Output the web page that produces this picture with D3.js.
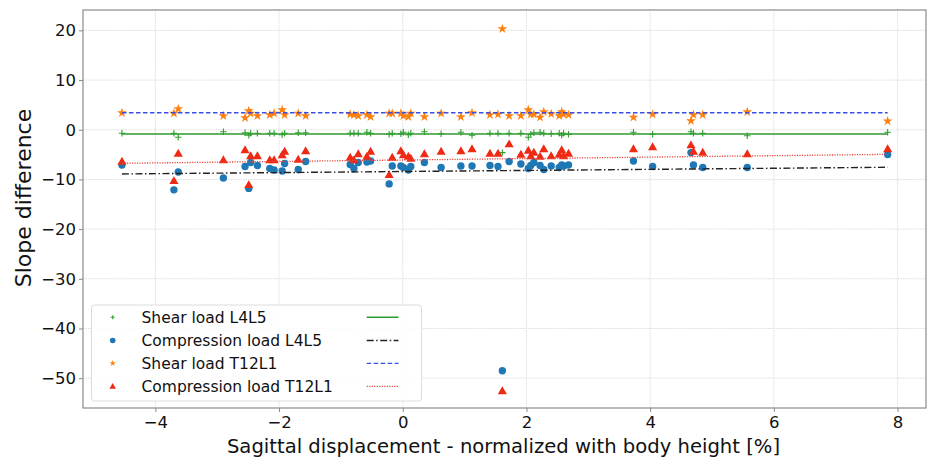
<!DOCTYPE html>
<html><head><meta charset="utf-8">
<script src="https://cdn.jsdelivr.net/npm/d3@7"></script>
<style>body{margin:0;background:#fff;} svg{display:block;font-family:"DejaVu Sans",sans-serif;}</style>
</head><body><svg id="c" width="930" height="459"></svg>
<script>
// Subject x positions (sagittal displacement, % body height)
const xValues = [-4.54,-3.70,-3.63,-2.90,-2.55,-2.49,-2.46,-2.35,-2.15,-2.08,-1.95,-1.91,-1.69,-1.57,-0.85,-0.79,-0.72,-0.58,-0.52,-0.22,-0.17,-0.03,0.01,0.09,0.13,0.35,0.62,0.94,1.12,1.41,1.54,1.61,1.72,1.91,2.03,2.07,2.12,2.22,2.28,2.40,2.53,2.57,2.60,2.68,3.73,4.04,4.66,4.70,4.85,5.57,7.84];
const shearL4L5 = [-0.7,-0.7,-1.5,-0.4,-0.6,-1.1,-0.7,-0.7,-0.7,-0.7,-1.0,-0.7,-0.6,-0.6,-0.7,-0.7,-0.7,-0.5,-0.7,-0.9,-0.7,-0.8,-0.5,-1.0,-0.7,-0.4,-0.8,-0.5,-1.1,-0.7,-0.7,-4.6,-0.7,-0.7,-1.5,-0.9,-0.6,-0.5,-0.7,-0.8,-0.7,-1.1,-0.7,-0.9,-0.5,-0.9,-0.4,-0.7,-0.7,-1.2,-0.5];
const compL4L5 = [-7.1,-12.1,-8.5,-9.7,-7.4,-11.8,-6.6,-7.2,-7.8,-8.1,-8.3,-6.8,-8.0,-6.4,-7.0,-7.8,-6.6,-6.5,-6.3,-10.9,-7.3,-7.3,-7.6,-8.1,-7.4,-6.6,-7.6,-7.3,-7.3,-7.2,-7.4,-48.5,-6.4,-6.9,-7.8,-7.2,-6.6,-7.2,-8.0,-7.3,-7.6,-7.1,-7.3,-7.1,-6.3,-7.4,-4.6,-7.1,-7.6,-7.6,-5.0];
const shearT12L1 = [3.4,3.3,4.2,2.8,2.4,3.8,3.3,2.8,3.0,3.3,4.0,3.0,3.3,2.8,3.1,3.0,2.8,3.0,2.6,3.3,3.3,3.3,2.8,2.6,3.3,2.6,3.3,2.6,3.4,3.0,3.1,20.3,2.8,2.8,4.0,3.1,3.1,2.5,3.6,3.2,2.8,3.6,3.1,3.0,2.5,3.1,1.8,3.0,3.0,3.6,1.75];
const compT12L1 = [-6.4,-10.3,-4.8,-6.1,-4.1,-11.1,-5.3,-5.3,-6.1,-6.1,-5.1,-4.4,-6.0,-4.3,-5.6,-6.1,-4.9,-5.4,-4.4,-9.1,-5.6,-4.3,-5.1,-5.4,-5.8,-4.9,-4.4,-4.3,-3.9,-4.8,-4.8,-52.6,-2.9,-5.0,-4.2,-5.3,-4.6,-5.4,-3.9,-5.3,-5.0,-4.1,-5.3,-4.8,-3.9,-3.5,-3.1,-4.4,-4.6,-4.9,-3.9];
// Fitted lines: value at first and last x
const fitShearL4L5 = [-0.87,-0.87];
const fitCompL4L5 = [-8.9,-7.55];
const fitShearT12L1 = [3.42,3.42];
const fitCompT12L1 = [-6.75,-4.95];
const seriesNames = ["Shear load L4L5","Compression load L4L5","Shear load T12L1","Compression load T12L1"];
const xTicks = [-4,-2,0,2,4,6,8];
const yTicks = [20,10,0,-10,-20,-30,-40,-50];

const svg = d3.select("#c");
const L=83,R=926,T=10,B=408;
const x = d3.scaleLinear().domain([-5.17,8.46]).range([L,R]);
const y = d3.scaleLinear().domain([-56.0,24.1]).range([B,T]);

// grid
const grid = svg.append("g");
grid.selectAll("line.v").data(xTicks).join("line")
  .attr("x1",d=>x(d)).attr("x2",d=>x(d)).attr("y1",T).attr("y2",B)
  .attr("stroke","#d4d4d4").attr("stroke-width",0.8).attr("stroke-dasharray","1.5,1");
grid.selectAll("line.h").data(yTicks).join("line")
  .attr("x1",L).attr("x2",R).attr("y1",d=>y(d)).attr("y2",d=>y(d))
  .attr("stroke","#d4d4d4").attr("stroke-width",0.8).attr("stroke-dasharray","1.5,1");

// axes
const xAxis = d3.axisBottom(x).tickValues(xTicks).tickSize(4).tickPadding(4);
const yAxis = d3.axisLeft(y).tickValues(yTicks).tickSize(4).tickPadding(3);
const gx = svg.append("g").attr("transform",`translate(0,${B})`).call(xAxis);
const gy = svg.append("g").attr("transform",`translate(${L},0)`).call(yAxis);
[gx,gy].forEach(g=>{
  g.select(".domain").remove();
  g.selectAll(".tick line").attr("stroke","#888");
  g.selectAll(".tick text").attr("fill","#111").style("font-size","16.5px").style("font-family","DejaVu Sans");
});

const colors = ["#2ca02c","#1f77b4","#ff7f0e","#ee2a14"];
const pts = (arr)=>xValues.map((xv,i)=>[xv,arr[i]]);
const plotArea = svg.append("g");

function plus(g, cx, cy, s, c){
  g.append("path").attr("d",`M${cx-s},${cy}H${cx+s}M${cx},${cy-s}V${cy+s}`)
   .attr("stroke",c).attr("stroke-width",1.1).attr("fill","none");
}
// scatter: shear L4L5
pts(shearL4L5).forEach(p=>plus(plotArea,x(p[0]),y(p[1]),3.2,colors[0]));
// compression L4L5
plotArea.selectAll("circle.b").data(pts(compL4L5)).join("circle")
  .attr("cx",d=>x(d[0])).attr("cy",d=>y(d[1])).attr("r",3.7).attr("fill",colors[1]);
// shear T12L1 stars
const star = d3.symbol().type(d3.symbolStar).size(30);
plotArea.selectAll("path.o").data(pts(shearT12L1)).join("path")
  .attr("d",star).attr("transform",d=>`translate(${x(d[0])},${y(d[1])})`).attr("fill",colors[2]);
// compression T12L1 triangles
const tri = d3.symbol().type(d3.symbolTriangle).size(36);
plotArea.selectAll("path.r").data(pts(compT12L1)).join("path")
  .attr("d",tri).attr("transform",d=>`translate(${x(d[0])},${y(d[1])+0.5})`).attr("fill",colors[3]);

// fit lines
const x0 = xValues[0], x1 = xValues[xValues.length-1];
const lineStyles = [
  {fit:fitShearL4L5,color:"#2f9a2f",dash:null,w:1.4},
  {fit:fitCompL4L5,color:"#222",dash:"7,2.5,1.5,2.5",w:1.4},
  {fit:fitShearT12L1,color:"#3a4fe0",dash:"4.5,2.5",w:1.3},
  {fit:fitCompT12L1,color:"#e8453a",dash:"1.2,1.3",w:1.3}
];
lineStyles.forEach(s=>{
  const l = plotArea.append("line").attr("x1",x(x0)).attr("x2",x(x1))
    .attr("y1",y(s.fit[0])).attr("y2",y(s.fit[1]))
    .attr("stroke",s.color).attr("stroke-width",s.w);
  if(s.dash) l.attr("stroke-dasharray",s.dash);
});

// frame
svg.append("rect").attr("x",L).attr("y",T).attr("width",R-L).attr("height",B-T)
  .attr("fill","none").attr("stroke","#8a8a8a").attr("stroke-width",1.2);

// legend
const lg = svg.append("g");
lg.append("rect").attr("x",91.5).attr("y",305).attr("width",330).attr("height",96).attr("rx",3)
  .attr("fill","rgba(255,255,255,0.85)").attr("stroke","#dcdcdc");
const rowY = [317.3,340.5,363.3,386.3];
seriesNames.forEach((n,i)=>{
  const cy = rowY[i], cx = 112.7;
  if(i===0) plus(lg,cx,cy,2,colors[0]);
  if(i===1) lg.append("circle").attr("cx",cx).attr("cy",cy).attr("r",2.8).attr("fill",colors[1]);
  if(i===2) lg.append("path").attr("d",d3.symbol().type(d3.symbolStar).size(12)).attr("transform",`translate(${cx},${cy})`).attr("fill",colors[2]);
  if(i===3) lg.append("path").attr("d",d3.symbol().type(d3.symbolTriangle).size(18)).attr("transform",`translate(${cx},${cy+0.5})`).attr("fill",colors[3]);
  lg.append("text").attr("x",141.5).attr("y",cy).attr("dy","0.35em").text(n)
    .style("font-size","15.5px").attr("fill","#111");
  const s = lineStyles[i];
  const l = lg.append("line").attr("x1",366.7).attr("x2",398.5).attr("y1",cy).attr("y2",cy)
    .attr("stroke",s.color).attr("stroke-width",s.w);
  if(s.dash) l.attr("stroke-dasharray",s.dash);
});

// axis labels
svg.append("text").attr("x",503.5).attr("y",453).attr("text-anchor","middle")
  .style("font-size","19.6px").attr("fill","#111").text("Sagittal displacement - normalized with body height [%]");
svg.append("text").attr("transform",`translate(31,198) rotate(-90)`).attr("text-anchor","middle")
  .style("font-size","22px").attr("fill","#111").text("Slope difference");
</script>
</body></html>
